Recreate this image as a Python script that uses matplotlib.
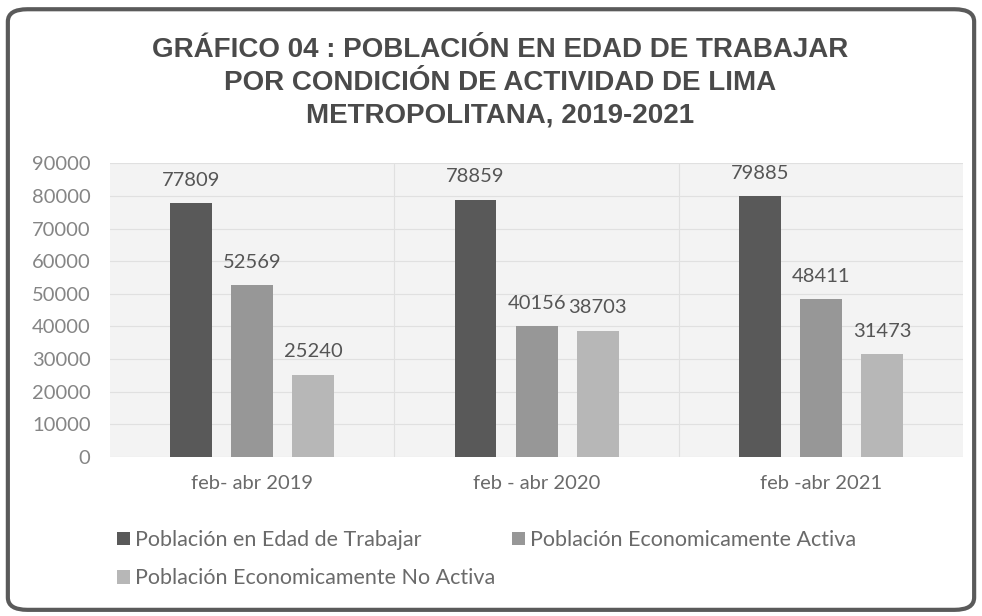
import matplotlib
matplotlib.use("Agg")
import matplotlib.pyplot as plt
import numpy as np
from matplotlib.patches import FancyBboxPatch, Patch

categories = ["feb- abr 2019", "feb - abr 2020", "feb -abr 2021"]
series_names = ["Población en Edad de Trabajar",
                "Población Economicamente Activa",
                "Población Economicamente No Activa"]
pet = [77809, 78859, 79885]
pea = [52569, 40156, 48411]
pnea = [25240, 38703, 31473]
yticks = [0, 10000, 20000, 30000, 40000, 50000, 60000, 70000, 80000, 90000]
title = "GRÁFICO 04 : POBLACIÓN EN EDAD DE TRABAJAR\nPOR CONDICIÓN DE ACTIVIDAD DE LIMA\nMETROPOLITANA, 2019-2021"

colors = ["#595959", "#979797", "#b7b7b7"]
txt = "#6a6a6a"
plt.rcParams['font.family'] = ['Lato', 'DejaVu Sans']

fig = plt.figure(figsize=(9.82, 6.16), dpi=100)
fig.patch.set_facecolor("white")

border = FancyBboxPatch((0.008, 0.01), 0.984, 0.975, boxstyle="round,pad=0,rounding_size=0.02",
                        transform=fig.transFigure, facecolor="none", edgecolor="#5a5a5a", lw=3)
fig.patches.append(border)

fig.text(0.509, 0.866, title, ha="center", va="center", fontsize=20, fontweight="bold",
         color="#4a4a4a", family=["Liberation Sans", "DejaVu Sans"],
         linespacing=1.35)

ax = fig.add_axes([0.112, 0.258, 0.869, 0.477])
ax.set_facecolor("#f3f3f3")
x = np.arange(len(categories))
w = 0.147
off = 0.215
for i, (vals, c) in enumerate(zip([pet, pea, pnea], colors)):
    xs = x + (i - 1) * off
    ax.bar(xs, vals, width=w, color=c, label=series_names[i], zorder=3)
    for xi, v in zip(xs, vals):
        ax.annotate(str(v), (xi, v), xytext=(0, 16.5), textcoords="offset points",
                    ha="center", va="center", fontsize=14.5, color="#555555")

ax.set_xlim(-0.5, 2.5)
ax.set_ylim(0, 90000)
ax.set_yticks(yticks)
ax.set_yticklabels([str(t) for t in yticks])
ax.set_xticks(x)
ax.set_xticklabels(categories)
ax.tick_params(axis="both", length=0, colors=txt)
ax.tick_params(axis="y", pad=14, labelsize=14.5, labelcolor="#858585")
ax.tick_params(axis="x", pad=13, labelsize=14.5)
ax.grid(axis="y", color="#e0e0e0", lw=0.8, zorder=0)
for b in [0.5, 1.5]:
    ax.axvline(b, color="#e0e0e0", lw=0.8, zorder=0)
for s in ax.spines.values():
    s.set_visible(False)

handles = [Patch(facecolor=c) for c in colors]
order = [0, 2, 1]
fig.legend([handles[i] for i in order], [series_names[i] for i in order], ncol=2,
           loc="upper left", bbox_to_anchor=(117 / 982, 1 - 530 / 616), frameon=False,
           fontsize=15.5, labelcolor=txt, handlelength=0.6, handleheight=0.6,
           handletextpad=0.25, columnspacing=0.75, labelspacing=0.85,
           borderpad=0, borderaxespad=0)

fig.savefig("out.png", dpi=100)
